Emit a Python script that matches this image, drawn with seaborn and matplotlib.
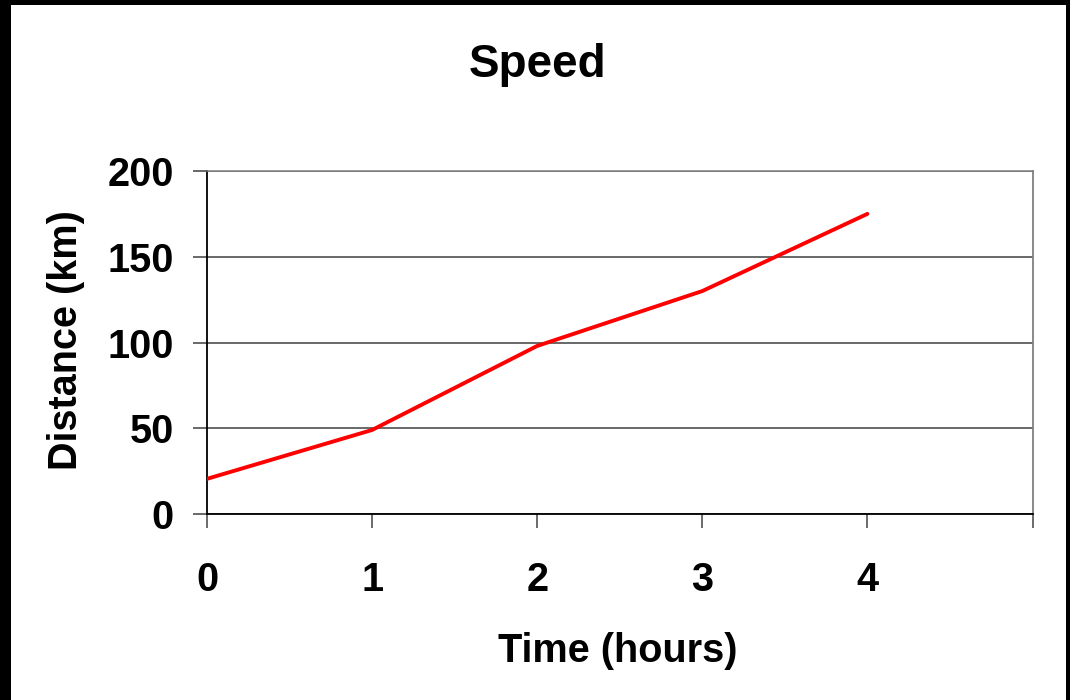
import matplotlib
matplotlib.use("Agg")
import matplotlib.pyplot as plt
import seaborn as sns
import pandas as pd
from matplotlib.patches import Rectangle

hours = [0, 1, 2, 3, 4]
distance = [20.5, 49, 98, 130, 175]
x_ticks = [0, 1, 2, 3, 4, 5]
x_tick_labels = ["0", "1", "2", "3", "4", ""]
y_ticks = [0, 50, 100, 150, 200]

sns.set_style("white")
plt.rcParams["font.family"] = ["Liberation Sans", "DejaVu Sans"]
plt.rcParams["font.weight"] = "bold"
plt.rcParams["text.color"] = "black"
plt.rcParams["xtick.labelcolor"] = "black"
plt.rcParams["ytick.labelcolor"] = "black"

fig = plt.figure(figsize=(10.7, 7), dpi=100, facecolor="white")
# black frame around the picture
for (x0, y0, w, h) in [(0, 0, 11, 700), (1066, 0, 4, 700), (0, 695, 1070, 5)]:
    fig.patches.append(Rectangle((x0/1070, y0/700), w/1070, h/700, transform=fig.transFigure,
                                 facecolor="black", edgecolor="none", zorder=0))

ax = fig.add_axes([207/1070, 186/700, (1032.5-207)/1070, (514-171)/700])
ax.set_zorder(2)
ax.set_facecolor("white")

df = pd.DataFrame({"Time": hours, "Distance": distance})
sns.lineplot(data=df, x="Time", y="Distance", color="#ff0000", linewidth=2.8, ax=ax, zorder=3)

ax.set_xlim(0, 5)
ax.set_ylim(0, 200)
ax.set_xticks(x_ticks)
ax.set_xticklabels(x_tick_labels)
ax.set_yticks(y_ticks)
ax.set_xlabel("")
ax.set_ylabel("")

ax.yaxis.grid(True, color="#404040", linewidth=1.1)
ax.xaxis.grid(False)
ax.set_axisbelow(True)

for s in ["left", "bottom"]:
    ax.spines[s].set_visible(True)
    ax.spines[s].set_color("black")
    ax.spines[s].set_linewidth(1.3)
ax.spines["top"].set_color("#808080")
ax.spines["top"].set_linewidth(1.1)
ax.spines["right"].set_color("#808080")
ax.spines["right"].set_linewidth(1.3)

ax.tick_params(axis="y", direction="out", length=10, width=1.1, color="#404040",
               pad=14, labelsize=28.5, left=True, labelcolor="black")
ax.tick_params(axis="x", direction="out", length=10, width=1.3, color="#606060",
               pad=24, labelsize=28.5, bottom=True, labelcolor="black")
for lab in ax.get_xticklabels() + ax.get_yticklabels():
    lab.set_fontweight("bold")

fig.text(538/1070, (700-77)/700, "Speed", ha="center", va="baseline",
         fontsize=33, fontweight="bold", color="black")
fig.text(618/1070, (700-662)/700, "Time (hours)", ha="center", va="baseline",
         fontsize=28.5, fontweight="bold", color="black")
fig.text(66/1070, (700-340)/700, "Distance (km)", ha="center", va="center",
         rotation=90, fontsize=28.5, fontweight="bold", color="black")

fig.savefig("out.png", dpi=100, facecolor=fig.get_facecolor())
